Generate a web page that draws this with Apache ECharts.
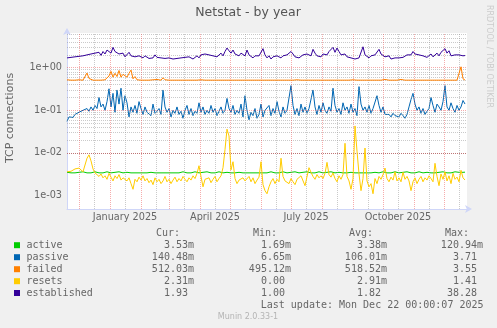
<!DOCTYPE html>
<html>
<head>
<meta charset="utf-8">
<script src="https://cdn.jsdelivr.net/npm/echarts@6/dist/echarts.min.js"></script>
<style>
  html, body { margin: 0; padding: 0; background: #f0f0f0; }
  #chart { width: 497px; height: 328px; }
</style>
</head>
<body>
<div id="chart"></div>
<script>
// Netstat daily averages, one sample every two days from 2024-11-19
const firstDay = Date.UTC(2024, 10, 19);
const stepDays = 2;
const axisStart = Date.UTC(2024, 10, 19);
const axisEnd = Date.UTC(2025, 11, 24);

const active = [
  0.0035,0.0034,0.0034,0.0036,0.0034,0.0034,0.0035,0.0034,0.0036,0.0034,
  0.0034,0.0035,0.0034,0.0034,0.0036,0.0034,0.0034,0.0035,0.0034,0.0034,
  0.0036,0.0034,0.0034,0.0034,0.0035,0.0034,0.0036,0.0034,0.0034,0.0034,
  0.0035,0.0034,0.0034,0.0036,0.0034,0.0034,0.0034,0.0035,0.0034,0.0036,
  0.0034,0.0034,0.0035,0.0034,0.0034,0.0036,0.0034,0.0034,0.0034,0.0035,
  0.0034,0.0036,0.0034,0.0034,0.0034,0.0035,0.0034,0.0034,0.0036,0.0034,
  0.0034,0.0035,0.0034,0.0034,0.0036,0.0034,0.0034,0.0034,0.0035,0.0034,
  0.0036,0.0034,0.0034,0.0035,0.0034,0.0034,0.0036,0.0034,0.0034,0.0034,
  0.0035,0.0034,0.0034,0.0036,0.0034,0.0034,0.0035,0.0034,0.0034,0.0036,
  0.0034,0.0034,0.0034,0.0035,0.0034,0.0036,0.0034,0.0034,0.0034,0.0035,
  0.0034,0.0034,0.0036,0.0034,0.0034,0.0035,0.0034,0.0034,0.0036,0.0034,
  0.0034,0.0034,0.0035,0.0034,0.0036,0.0034,0.0034,0.0034,0.0035,0.0034,
  0.0036,0.0034,0.0034,0.0035,0.0034,0.0034,0.0036,0.0034,0.0034,0.0034,
  0.0035,0.0034,0.0036,0.0034,0.0034,0.0034,0.0035,0.0034,0.0034,0.0036,
  0.0034,0.0034,0.0035,0.0034,0.0034,0.0036,0.0034,0.0034,0.0034,0.0035,
  0.0034,0.0036,0.0034,0.0034,0.0035,0.0034,0.0034,0.0034,0.0036,0.0034,
  0.0034,0.0035,0.0034,0.0034,0.0036,0.0034,0.0034,0.0034,0.0035,0.0034,
  0.0036,0.0034,0.0034,0.0035,0.0034,0.0034,0.0036,0.0034,0.0034,0.0034,
  0.0035,0.0034,0.0034,0.0036,0.0034,0.0034,0.0035,0.0034,0.0036,0.0034,
  0.0034,0.0035,0.0034,0.0034,0.0036,0.0034,0.0035,0.0034,0.0035,0.00353
];

const passive = [
  0.055,0.07,0.075,0.068,0.08,0.072,0.09,0.085,0.1,0.09,
  0.11,0.095,0.12,0.1,0.13,0.11,0.2,0.12,0.14,0.1,
  0.16,0.32,0.12,0.25,0.09,0.3,0.14,0.33,0.1,0.22,
  0.15,0.07,0.12,0.09,0.13,0.085,0.16,0.11,0.08,0.12,
  0.09,0.1,0.075,0.14,0.085,0.095,0.11,0.08,0.3,0.12,
  0.09,0.11,0.07,0.1,0.085,0.12,0.08,0.095,0.065,0.1,
  0.13,0.08,0.11,0.075,0.095,0.085,0.15,0.09,0.12,0.08,
  0.1,0.085,0.13,0.09,0.11,0.075,0.095,0.12,0.085,0.1,
  0.19,0.11,0.09,0.13,0.08,0.1,0.085,0.14,0.07,0.22,
  0.1,0.06,0.09,0.075,0.11,0.065,0.08,0.14,0.07,0.1,
  0.09,0.13,0.075,0.11,0.085,0.16,0.095,0.07,0.12,0.085,
  0.1,0.09,0.38,0.13,0.08,0.11,0.075,0.14,0.09,0.12,
  0.085,0.11,0.1,0.3,0.12,0.08,0.13,0.09,0.15,0.1,
  0.085,0.12,0.095,0.33,0.13,0.09,0.11,0.08,0.15,0.1,
  0.12,0.085,0.14,0.09,0.11,0.075,0.36,0.14,0.1,0.12,
  0.09,0.13,0.085,0.11,0.1,0.22,0.13,0.09,0.12,0.08,
  0.075,0.08,0.07,0.085,0.075,0.08,0.07,0.085,0.075,0.065,
  0.08,0.12,0.18,0.25,0.14,0.1,0.12,0.085,0.11,0.08,
  0.095,0.11,0.2,0.13,0.09,0.14,0.12,0.1,0.16,0.38,
  0.12,0.1,0.15,0.11,0.09,0.13,0.1,0.12,0.17,0.14048
];

const failed = [
  0.52,0.53,0.51,0.51,0.51,0.51,0.52,0.51,0.51,0.51,
  0.75,0.56,0.51,0.51,0.52,0.51,0.51,0.51,0.51,0.52,
  0.55,0.64,0.82,0.6,0.74,0.62,0.86,0.6,0.7,0.65,
  0.6,0.74,0.88,0.55,0.62,0.52,0.51,0.51,0.52,0.51,
  0.51,0.51,0.51,0.52,0.51,0.53,0.51,0.51,0.58,0.52,
  0.51,0.51,0.51,0.51,0.51,0.51,0.52,0.51,0.51,0.51,
  0.51,0.51,0.51,0.51,0.51,0.51,0.51,0.52,0.51,0.51,
  0.51,0.51,0.51,0.51,0.51,0.51,0.51,0.51,0.51,0.51,
  0.51,0.51,0.51,0.51,0.51,0.51,0.51,0.51,0.51,0.51,
  0.51,0.51,0.51,0.51,0.51,0.51,0.51,0.51,0.51,0.51,
  0.51,0.51,0.51,0.51,0.51,0.51,0.51,0.51,0.51,0.51,
  0.51,0.51,0.51,0.51,0.51,0.52,0.53,0.51,0.51,0.51,
  0.51,0.51,0.51,0.51,0.51,0.51,0.51,0.51,0.51,0.51,
  0.51,0.51,0.51,0.51,0.51,0.51,0.51,0.51,0.51,0.51,
  0.51,0.51,0.51,0.52,0.51,0.51,0.51,0.51,0.51,0.51,
  0.51,0.51,0.51,0.51,0.51,0.51,0.51,0.51,0.53,0.53,
  0.52,0.51,0.51,0.51,0.51,0.51,0.51,0.53,0.53,0.51,
  0.51,0.51,0.51,0.51,0.51,0.51,0.51,0.51,0.51,0.51,
  0.51,0.51,0.51,0.51,0.51,0.51,0.51,0.51,0.51,0.51,
  0.51,0.51,0.51,0.51,0.51,0.51,0.51,1.05,0.55,0.512
];

const resets = [
  0.0036,0.0035,0.0037,0.0039,0.0042,0.0046,0.0044,0.0040,0.0036,0.0034,
  0.0075,0.009,0.0065,0.0042,0.0034,0.0031,0.0028,0.0032,0.0026,0.0029,
  0.0024,0.0033,0.0027,0.0022,0.0029,0.0025,0.0031,0.0023,0.0026,0.0028,
  0.0022,0.0026,0.0019,0.0014,0.0024,0.0021,0.0027,0.0023,0.0029,0.0022,
  0.0025,0.002,0.0023,0.0018,0.0026,0.0021,0.0024,0.0019,0.0022,0.0028,
  0.0021,0.0024,0.0019,0.0023,0.0027,0.0021,0.0025,0.0022,0.0028,0.0024,
  0.0021,0.0026,0.0023,0.0029,0.0025,0.0033,0.005,0.0028,0.0016,0.0024,
  0.0022,0.0026,0.002,0.0024,0.0028,0.0021,0.0025,0.0029,0.0045,0.012,
  0.036,0.025,0.004,0.0062,0.0025,0.0019,0.0023,0.0021,0.0026,0.0022,
  0.0024,0.0028,0.0021,0.0026,0.0019,0.0023,0.0027,0.0062,0.0018,0.0013,
  0.0011,0.0016,0.0021,0.0025,0.0019,0.0024,0.0021,0.0075,0.0028,0.0022,
  0.0023,0.0019,0.0025,0.0021,0.0018,0.0024,0.0022,0.0029,0.0027,0.0017,
  0.0016,0.0045,0.0035,0.0028,0.0024,0.0031,0.0026,0.0029,0.0025,0.0033,
  0.006,0.0031,0.0027,0.0034,0.0025,0.0021,0.0029,0.0024,0.0031,0.0168,
  0.0028,0.0022,0.0014,0.0025,0.043,0.011,0.0032,0.0013,0.0025,0.013,
  0.0022,0.0016,0.0019,0.0011,0.0025,0.0019,0.0028,0.0024,0.0031,0.0044,
  0.0025,0.0021,0.0027,0.0023,0.0036,0.0022,0.0026,0.0021,0.0035,0.0024,
  0.0028,0.0022,0.0013,0.0021,0.0026,0.0019,0.0024,0.0028,0.0021,0.0026,
  0.0023,0.0029,0.0025,0.0021,0.0057,0.0028,0.0017,0.0032,0.0024,0.0036,
  0.0022,0.0029,0.0019,0.0033,0.0024,0.0027,0.0021,0.0039,0.0026,0.00231
];

const established = [
  1.7,1.6,1.75,1.65,1.8,1.7,1.85,1.75,1.9,1.8,
  2.0,1.85,2.1,1.9,2.2,2.0,2.3,1.95,2.4,2.1,
  2.6,2.7,2.2,3.0,2.4,2.6,2.1,1.9,2.2,1.8,
  2.0,2.3,1.9,2.1,1.8,2.0,1.9,1.8,1.7,1.9,
  1.75,1.65,1.8,1.7,2.0,1.75,1.6,1.7,1.85,1.65,
  1.55,1.7,1.8,1.6,1.75,1.65,1.5,1.7,1.6,1.75,
  1.65,1.8,1.7,1.6,1.75,1.9,1.7,2.0,1.85,2.1,
  1.9,2.0,1.8,1.9,2.1,1.8,1.95,2.2,1.9,2.4,
  2.9,2.5,2.2,2.6,2.1,2.3,1.9,2.2,2.0,1.9,
  2.6,2.0,1.8,1.7,1.9,1.75,1.9,1.8,2.8,2.0,
  1.7,1.9,1.6,1.8,1.7,1.9,1.8,1.7,1.9,1.75,
  2.0,1.8,2.4,2.1,1.8,1.9,1.7,1.8,2.0,1.9,
  2.1,2.2,1.9,2.7,2.2,1.9,2.0,1.8,2.1,2.3,
  2.0,2.4,2.2,3.0,2.3,2.9,2.4,2.0,1.9,2.1,
  1.8,1.9,1.7,1.8,1.6,1.75,1.7,1.8,3.1,2.0,
  1.8,1.7,1.9,1.8,2.0,2.2,2.7,2.1,1.9,1.8,
  1.7,1.9,1.6,1.75,1.7,1.6,1.7,1.8,1.75,1.9,
  2.0,2.2,2.0,2.4,2.1,1.9,2.0,1.8,1.9,2.0,
  1.75,1.9,2.1,1.8,2.0,2.2,1.9,2.3,2.1,2.8,
  2.2,2.5,1.9,2.1,2.0,1.8,2.0,2.1,1.9,1.93
];

// Axis ticks and labels
const yTicks = [0.001, 0.01, 0.1, 1];
const xLabelNames = ['January 2025', 'April 2025', 'July 2025', 'October 2025'];
const xLabelDates = [Date.UTC(2025, 0, 16), Date.UTC(2025, 3, 16), Date.UTC(2025, 6, 16), Date.UTC(2025, 9, 16)];

// Legend table
const seriesNames = ['active', 'passive', 'failed', 'resets', 'established'];
const seriesColors = ['#00CC00', '#0066B3', '#FF8000', '#FFCC00', '#330099'];
const curText = ['3.53m', '140.48m', '512.03m', '2.31m', '1.93'];
const minText = ['1.69m', '6.65m', '495.12m', '0.00', '1.00'];
const avgText = ['3.38m', '106.01m', '518.52m', '2.91m', '1.82'];
const maxText = ['120.94m', '3.71', '3.55', '1.41', '38.28'];
const lastUpdate = 'Last update: Mon Dec 22 00:00:07 2025';

const DAY = 86400000;
const toPairs = arr => arr.map((v, i) => [firstDay + i * stepDays * DAY, v]);

// grid line positions: month starts (major) and mid-months (minor)
const monthStarts = [], monthMids = [];
for (let m = 11; m <= 23; m++) {
  monthStarts.push(Date.UTC(2024, m, 1));
  monthMids.push(Date.UTC(2024, m, 16));
}
const logMinor = [], logMajor = [];
for (let e = -4; e <= 0; e++) {
  logMajor.push(Math.pow(10, e));
  for (let k = 2; k <= 9; k++) logMinor.push(k * Math.pow(10, e));
}

const MAJOR = 'rgba(235,70,70,0.45)';
const MINOR = 'rgba(150,150,150,0.5)';
const AXIS = '#CFD6F8';
const FONT = '#666666';
const SANS = '"DejaVu Sans", sans-serif';
const MONO = '"DejaVu Sans Mono", monospace';

function expLabel(v) {
  const e = Math.round(Math.log10(v));
  const s = e < 0 ? '-' : '+';
  const a = Math.abs(e);
  return '1e' + s + (a < 10 ? '0' : '') + a;
}

function gridLines(values, axis, color) {
  return values.map(v => ({ [axis]: v, lineStyle: { color: color, type: [1, 1], width: 1 } }));
}

const chart = echarts.init(document.getElementById('chart'), null, { renderer: 'canvas' });

const lineSeries = [active, passive, failed, resets, established].map((arr, i) => ({
  name: seriesNames[i],
  type: 'line',
  data: toPairs(arr),
  showSymbol: false,
  symbol: 'none',
  lineStyle: { width: 1, color: seriesColors[i] },
  itemStyle: { color: seriesColors[i] },
  z: 3 + i,
  silent: true
}));

// legend graphic
const rowY = [245.7, 257.7, 269.7, 281.7, 293.5];
const colRight = [194, 291, 387, 483];
const graphics = [];
graphics.push({ type: 'text', style: { text: 'Netstat - by year', x: 248, y: 13, align: 'center', verticalAlign: 'middle', fill: '#555', font: '12.5px ' + SANS } });
graphics.push({ type: 'text', x: 10.5, y: 118, rotation: Math.PI / 2, style: { text: 'TCP connections', x: 0, y: 0, align: 'center', verticalAlign: 'middle', fill: FONT, font: '11px ' + SANS } });
graphics.push({ type: 'text', x: 489, y: 5, rotation: -Math.PI / 2, style: { text: 'RRDTOOL / TOBI OETIKER', x: 0, y: 0, align: 'left', verticalAlign: 'middle', fill: '#cccccc', font: '8px ' + SANS } });
['Cur:', 'Min:', 'Avg:', 'Max:'].forEach((h, j) => {
  graphics.push({ type: 'text', style: { text: h, x: colRight[j] - 14, y: 233.5, align: 'right', verticalAlign: 'middle', fill: FONT, font: '10px ' + MONO } });
});
seriesNames.forEach((n, i) => {
  graphics.push({ type: 'rect', shape: { x: 14, y: rowY[i] - 3.5, width: 6, height: 6 }, style: { fill: seriesColors[i] } });
  graphics.push({ type: 'text', style: { text: n, x: 26.5, y: rowY[i], align: 'left', verticalAlign: 'middle', fill: FONT, font: '10px ' + MONO } });
  [curText, minText, avgText, maxText].forEach((col, j) => {
    const t = col[i];
    const hasUnit = /[a-zA-Z]$/.test(t);
    graphics.push({ type: 'text', style: { text: t, x: colRight[j] - (hasUnit ? 0 : 6), y: rowY[i], align: 'right', verticalAlign: 'middle', fill: FONT, font: '10px ' + MONO } });
  });
});
graphics.push({ type: 'text', style: { text: lastUpdate, x: 483.5, y: 305.7, align: 'right', verticalAlign: 'middle', fill: FONT, font: '10px ' + MONO } });
graphics.push({ type: 'text', style: { text: 'Munin 2.0.33-1', x: 248, y: 317, align: 'center', verticalAlign: 'middle', fill: '#b4b4b4', font: '8px ' + SANS } });

const option = {
  animation: false,
  backgroundColor: '#f0f0f0',
  grid: { left: 67, top: 33, width: 400, height: 176, show: true, backgroundColor: '#ffffff', borderWidth: 0 },
  xAxis: {
    type: 'value',
    min: axisStart,
    max: axisEnd,
    splitLine: { show: false },
    axisTick: { show: false },
    axisLine: { show: true, lineStyle: { color: AXIS, width: 1 }, symbol: ['none', 'arrow'], symbolSize: [6, 7], symbolOffset: [0, 5] },
    axisLabel: {
      show: true,
      customValues: xLabelDates,
      formatter: v => { const k = xLabelDates.indexOf(v); return k >= 0 ? xLabelNames[k] : ''; },
      color: FONT,
      fontFamily: SANS,
      fontSize: 9.7,
      margin: 3,
      hideOverlap: false
    }
  },
  yAxis: {
    type: 'log',
    logBase: 10,
    min: 4.82e-4,
    max: 6.53,
    splitLine: { show: false },
    axisTick: { show: false },
    axisLine: { show: true, lineStyle: { color: AXIS, width: 1 }, symbol: ['none', 'arrow'], symbolSize: [6, 7], symbolOffset: [0, 5] },
    axisLabel: {
      show: true,
      customValues: yTicks,
      formatter: v => expLabel(v),
      color: FONT,
      fontFamily: SANS,
      fontSize: 9.7,
      margin: 5
    }
  },
  graphic: graphics,
  series: [
    {
      type: 'line',
      data: [],
      z: 1,
      silent: true,
      markLine: {
        silent: true,
        symbol: 'none',
        animation: false,
        label: { show: false },
        data: [].concat(
          gridLines(monthMids, 'xAxis', MINOR),
          gridLines(logMinor, 'yAxis', MINOR),
          gridLines(monthStarts, 'xAxis', MAJOR),
          gridLines(logMajor, 'yAxis', MAJOR)
        )
      }
    }
  ].concat(lineSeries)
};

chart.setOption(option);
</script>
</body>
</html>
